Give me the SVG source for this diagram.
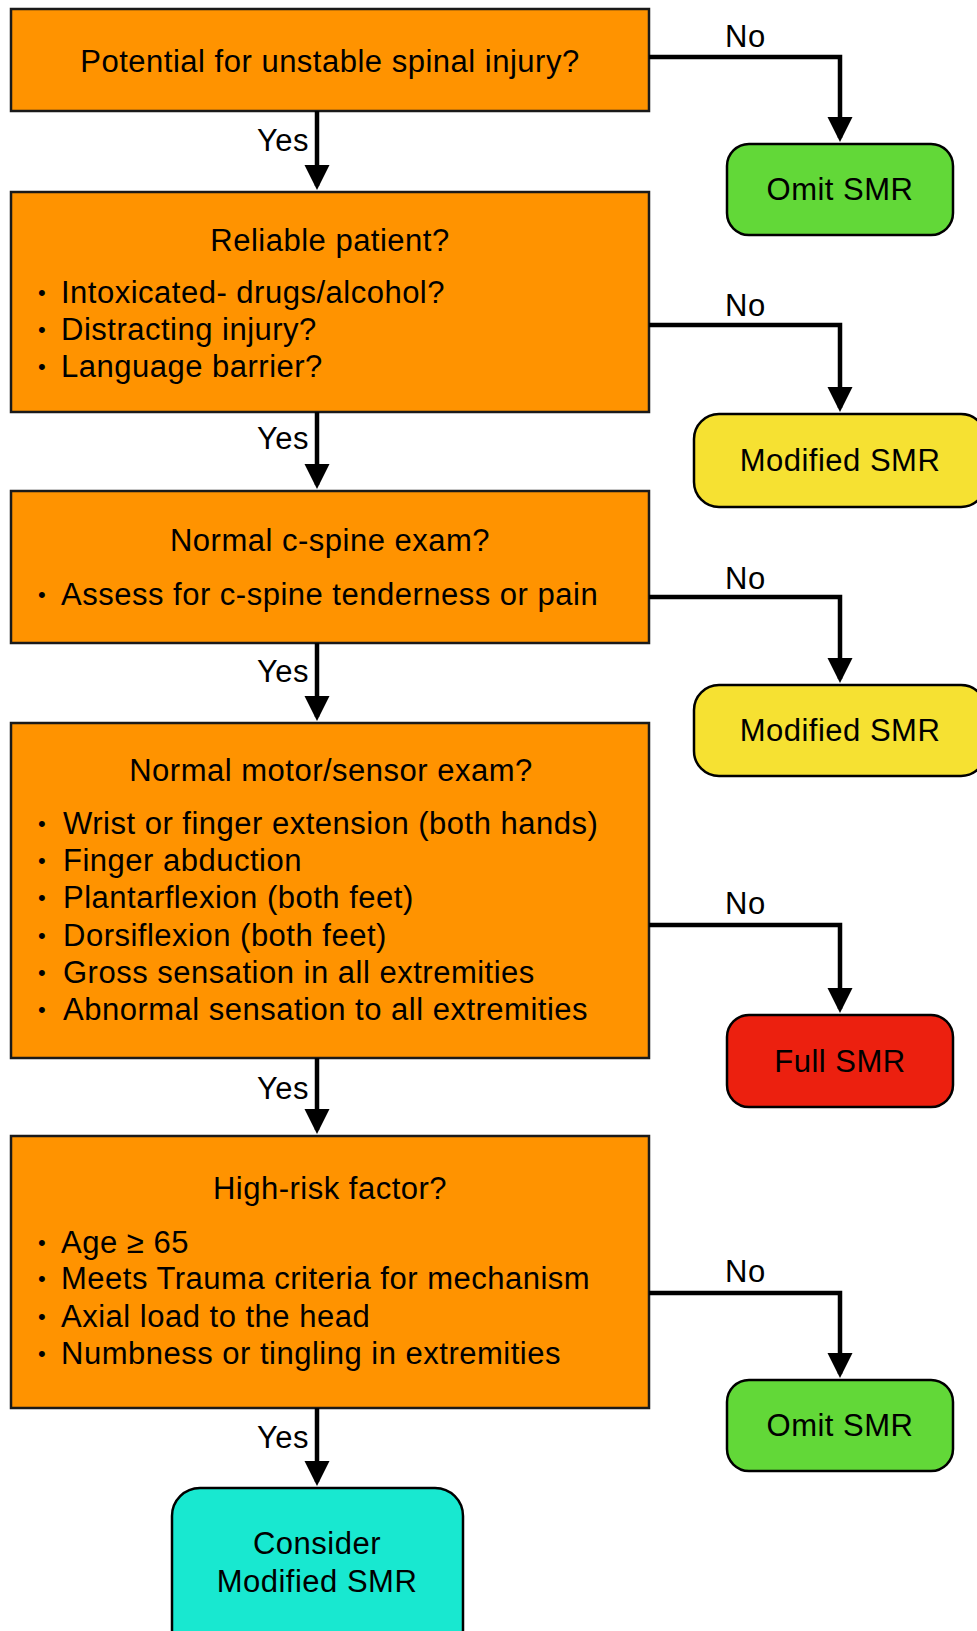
<svg xmlns="http://www.w3.org/2000/svg" width="977" height="1631" viewBox="0 0 977 1631">
  <style>
    text { font-family: "Liberation Sans", Arial, sans-serif; font-size: 31px; letter-spacing: 0.5px; fill: #000; }
    .c { text-anchor: middle; }
    .yes { text-anchor: end; }
    .dot { font-size: 22px; text-anchor: middle; }
    .q { fill: #FF9300; stroke: #1a1a1a; stroke-width: 2.5; }
    .end { stroke: #000; stroke-width: 2.5; }
    .green { fill: #62D838; }
    .yellow { fill: #F6E132; }
    .red { fill: #EC200F; }
    .cyan { fill: #18E8D0; }
    .link { fill: none; stroke: #000; stroke-width: 4.5; marker-end: url(#arrow); }
  </style>
  <defs>
    <marker id="arrow" markerUnits="userSpaceOnUse" markerWidth="26" markerHeight="26" refX="21" refY="12.5" orient="auto">
      <path d="M0,0 L25,12.5 L0,25 Z" fill="#000"/>
    </marker>
  </defs>
  <rect width="977" height="1631" fill="#fff"/>

  <!-- decision boxes -->
  <g id="q-unstable">
    <rect class="q" x="11" y="9" width="638" height="102"/>
    <text class="c" x="330" y="72">Potential for unstable spinal injury?</text>
  </g>
  <g id="q-reliable">
    <rect class="q" x="11" y="192" width="638" height="220"/>
    <text class="c" x="330" y="251">Reliable patient?</text>
    <text class="dot" x="42" y="300">•</text><text x="61" y="303">Intoxicated- drugs/alcohol?</text>
    <text class="dot" x="42" y="337">•</text><text x="61" y="340">Distracting injury?</text>
    <text class="dot" x="42" y="374">•</text><text x="61" y="377">Language barrier?</text>
  </g>
  <g id="q-cspine">
    <rect class="q" x="11" y="491" width="638" height="152"/>
    <text class="c" x="330" y="551">Normal c-spine exam?</text>
    <text class="dot" x="42" y="602">•</text><text x="61" y="605">Assess for c-spine tenderness or pain</text>
  </g>
  <g id="q-motor">
    <rect class="q" x="11" y="723" width="638" height="335"/>
    <text class="c" x="331" y="781">Normal motor/sensor exam?</text>
    <text class="dot" x="42" y="831">•</text><text x="63" y="834">Wrist or finger extension (both hands)</text>
    <text class="dot" x="42" y="868">•</text><text x="63" y="871">Finger abduction</text>
    <text class="dot" x="42" y="905">•</text><text x="63" y="908">Plantarflexion (both feet)</text>
    <text class="dot" x="42" y="943">•</text><text x="63" y="946">Dorsiflexion (both feet)</text>
    <text class="dot" x="42" y="980">•</text><text x="63" y="983">Gross sensation in all extremities</text>
    <text class="dot" x="42" y="1017">•</text><text x="63" y="1020">Abnormal sensation to all extremities</text>
  </g>
  <g id="q-highrisk">
    <rect class="q" x="11" y="1136" width="638" height="272"/>
    <text class="c" x="330" y="1199">High-risk factor?</text>
    <text class="dot" x="42" y="1250">•</text><text x="61" y="1253">Age ≥ 65</text>
    <text class="dot" x="42" y="1286">•</text><text x="61" y="1289">Meets Trauma criteria for mechanism</text>
    <text class="dot" x="42" y="1324">•</text><text x="61" y="1327">Axial load to the head</text>
    <text class="dot" x="42" y="1361">•</text><text x="61" y="1364">Numbness or tingling in extremities</text>
  </g>

  <!-- outcome boxes -->
  <g id="omit-1">
    <rect class="end green" x="727" y="144" width="226" height="91" rx="22"/>
    <text class="c" x="840" y="200">Omit SMR</text>
  </g>
  <g id="modified-1">
    <rect class="end yellow" x="694" y="414" width="292" height="93" rx="25"/>
    <text class="c" x="840" y="471">Modified SMR</text>
  </g>
  <g id="modified-2">
    <rect class="end yellow" x="694" y="685" width="292" height="91" rx="25"/>
    <text class="c" x="840" y="741">Modified SMR</text>
  </g>
  <g id="full">
    <rect class="end red" x="727" y="1015" width="226" height="92" rx="22"/>
    <text class="c" x="840" y="1072">Full SMR</text>
  </g>
  <g id="omit-2">
    <rect class="end green" x="727" y="1380" width="226" height="91" rx="22"/>
    <text class="c" x="840" y="1436">Omit SMR</text>
  </g>
  <g id="consider">
    <rect class="end cyan" x="172" y="1488" width="291" height="170" rx="28"/>
    <text class="c" x="317" y="1554">Consider</text>
    <text class="c" x="317" y="1592">Modified SMR</text>
  </g>

  <!-- connectors -->
  <g id="connectors">
    <path class="link" d="M317,111 V186"/>
    <path class="link" d="M317,412 V485"/>
    <path class="link" d="M317,643 V717"/>
    <path class="link" d="M317,1058 V1130"/>
    <path class="link" d="M317,1408 V1482"/>
    <path class="link" d="M649,57 H840 V138"/>
    <path class="link" d="M649,325 H840 V408"/>
    <path class="link" d="M649,597 H840 V679"/>
    <path class="link" d="M649,925 H840 V1009"/>
    <path class="link" d="M649,1293 H840 V1374"/>
    <text class="yes" x="309" y="151">Yes</text>
    <text class="yes" x="309" y="449">Yes</text>
    <text class="yes" x="309" y="682">Yes</text>
    <text class="yes" x="309" y="1099">Yes</text>
    <text class="yes" x="309" y="1448">Yes</text>
    <text x="725" y="47">No</text>
    <text x="725" y="316">No</text>
    <text x="725" y="589">No</text>
    <text x="725" y="914">No</text>
    <text x="725" y="1282">No</text>
  </g>
</svg>
